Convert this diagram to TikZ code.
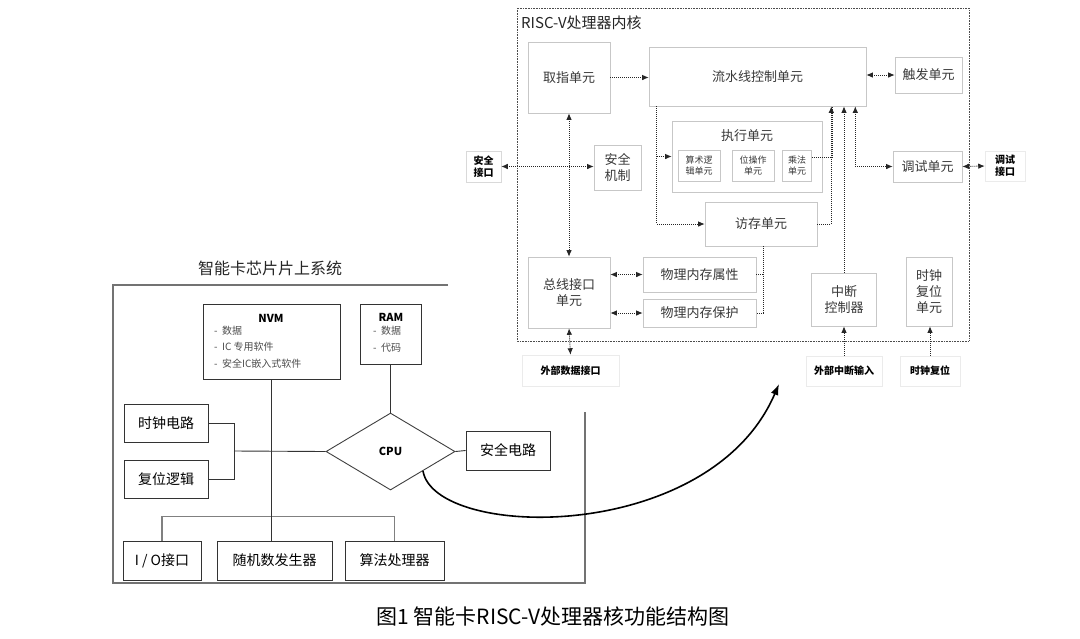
\documentclass[tikz,border=0pt]{standalone}
\usepackage{fontspec}
\setmainfont{Noto Sans CJK SC}
\usetikzlibrary{arrows.meta,shapes.geometric,shadows}
\newcommand{\fsz}[2]{\fontsize{#1pt}{#2pt}\selectfont}
\tikzset{
  wh/.style 2 args={minimum width=#1pt,minimum height=#2pt},
  cbox/.style={draw=black!22, fill=white, line width=0.6pt, text=black!78, inner sep=1pt, align=center,
    drop shadow={opacity=0.12,shadow xshift=0.8pt,shadow yshift=-0.8pt}},
  lbox/.style={draw=black!8, fill=white, line width=0.5pt, text=black, inner sep=1pt, align=center},
  sbox/.style={draw=black!80, line width=0.9pt, fill=white, align=center, inner sep=1pt},
  dl/.style={line width=0.9pt, black!85, dash pattern=on 1pt off 1pt},
  darr/.style={dl, -{Latex[length=6.5pt,width=5.5pt]}},
  ddarr/.style={dl, {Latex[length=6.5pt,width=5.5pt]}-{Latex[length=6.5pt,width=5.5pt]}},
  sline/.style={black!80, line width=0.9pt},
  busline/.style={black!50, line width=1.8pt},
  f13/.style={font=\fsz{13}{16}},
  f14/.style={font=\fsz{14}{16}},
  f9/.style={font=\fsz{9}{11}},
  fb10/.style={font=\fsz{10}{12}\bfseries},
}
\begin{document}
\begin{tikzpicture}[x=1pt,y=-1pt]
\useasboundingbox[fill=white] (0,0) rectangle (1080,638);

% ---------------- RISC-V core ----------------
\draw[black!70, line width=0.8pt, dash pattern=on 0.8pt off 0.8pt] (517,8) rectangle (969,341);
\node[anchor=west, text=black!85, inner sep=0, font=\fsz{15}{18}] (coret) at (521,23) {RISC-V处理器内核};

\node[cbox, f13, wh={82}{71}] (qz) at (569,77.5) {取指单元};
\node[cbox, f13, wh={217}{59}] (pl) at (757.5,76.5) {流水线控制单元};
\node[cbox, f13, wh={67}{36}] (cf) at (928.5,75) {触发单元};
\node[cbox, wh={150}{71}] (exe) at (747,156.5) {};
\node[text=black!78, inner sep=0, f13] (exet) at (747,136) {执行单元};
\node[cbox, f9, wh={42}{31}] (alu) at (699,165.5) {算术逻\\辑单元};
\node[cbox, f9, wh={42}{31}] (bit) at (753,165.5) {位操作\\单元};
\node[cbox, f9, wh={29}{31}] (mul) at (797,165.5) {乘法\\单元};
\node[cbox, f13, wh={47}{45}] (aqjz) at (617.5,167.5) {安全\\机制};
\node[lbox, fb10, wh={35}{31}, draw=black!15] (aqjk) at (483.5,166.5) {安全\\接口};
\node[cbox, f13, wh={112}{44}] (fc) at (761,224) {访存单元};
\node[cbox, f13, wh={69}{31}] (ts) at (927.5,166.5) {调试单元};
\node[lbox, fb10, wh={40}{30}] (tsjk) at (1005,166) {调试\\接口};
\node[cbox, f13, wh={82}{71}] (bus) at (569,292.5) {总线接口\\单元};
\node[cbox, f13, wh={113}{35}] (attr) at (699.5,274.5) {物理内存属性};
\node[cbox, f13, wh={113}{28}] (prot) at (699.5,313) {物理内存保护};
\node[cbox, f13, wh={65}{53}] (intc) at (844,299.5) {中断\\控制器};
\node[cbox, f13, wh={46}{69}] (clk) at (929,291.5) {时钟\\复位\\单元};
\node[lbox, fb10, wh={97}{31}] (exd) at (570.5,370.5) {外部数据接口};
\node[lbox, fb10, wh={76}{30}] (exi) at (844,371) {外部中断输入};
\node[lbox, fb10, wh={60}{30}] (ckr) at (930,371) {时钟复位};

% core connectors
\draw[darr] (qz.east) -- (qz.east -| pl.west);
\draw[ddarr] (cf.west -| pl.east) -- (cf.west);
\draw[ddarr] (qz.south) -- (bus.north);
\draw[ddarr] (aqjk.east) -- (aqjk.east -| aqjz.west);
\draw[darr] ([xshift=8pt]pl.south west) |- (exe.west);
\draw[darr] ([xshift=8pt]pl.south west) |- (fc.west);
\draw[dl] ([yshift=8.5pt]mul.east) -| ([xshift=-34pt]pl.south east);
\draw[darr] (fc.east) -| ([xshift=-35pt]pl.south east);
\draw[darr] (intc.north) -- (intc.north |- pl.south);
\draw[ddarr] ([xshift=-11pt]pl.south east) |- (ts.west);
\draw[ddarr] (ts.east) -- (tsjk.west);
\draw[dl] (attr.east) -| ([xshift=2pt]fc.south);
\draw[dl] ([xshift=2pt]fc.south) |- (prot.east);
\draw[ddarr] (bus.east |- attr.west) -- (attr.west);
\draw[ddarr] (bus.east |- prot.west) -- (prot.west);
\draw[ddarr] (bus.south) -- (exd.north);
\draw[darr] (exi.north) -- (exi.north |- intc.south);
\draw[darr] (ckr.north) -- (ckr.north |- clk.south);

% ---------------- smart card SoC ----------------
\node[text=black!85, inner sep=0, font=\fsz{16}{18}] (systitle) at (270,268) {智能卡芯片片上系统};
\draw[black!55, line width=1.5pt] (448,285) -- (113,285) -- (113,583) -- (585,583) -- (585,412);

\node[sbox, wh={137}{75}] (nvm) at (271.5,341.5) {};
\node[inner sep=0, font=\fsz{11}{13}\bfseries] (nvmt) at (271,318) {NVM};
\node[anchor=north west, align=left, inner sep=0, text=black!70, font=\fsz{10}{16}] (nvml) at (214,326) {-\ \ 数据\\-\ \ IC 专用软件\\[1pt]-\ \ 安全IC嵌入式软件};
\node[sbox, wh={61}{60}] (ram) at (390.5,334) {};
\node[inner sep=0, font=\fsz{11}{13}\bfseries] (ramt) at (391,317) {RAM};
\node[anchor=north west, align=left, inner sep=0, text=black!70, font=\fsz{10}{17}] (raml) at (373,326) {-\ \ 数据\\-\ \ 代码};

\node[sbox, f14, wh={84}{38}] (sclk) at (166,423) {时钟电路};
\node[sbox, f14, wh={84}{38}] (rst) at (166,479) {复位逻辑};
\node[diamond, draw=black!75, line width=0.9pt, fill=white, inner sep=0, wh={129}{77}, font=\fsz{11}{13}\bfseries] (cpu) at (390.5,451.5) {CPU};
\node[sbox, f14, wh={84}{39}] (sec) at (508,450.5) {安全电路};
\node[sbox, f14, wh={78}{39}] (io) at (162,560.5) {I\ /\ O接口};
\node[sbox, f14, wh={115}{39}] (rng) at (274.5,560.5) {随机数发生器};
\node[sbox, f14, wh={99}{39}] (alg) at (394.5,560.5) {算法处理器};

\coordinate (j1) at (234,451);
\draw[busline] (io.north) -- ++(0,-24) -| (alg.north);
\draw[sline] (nvm.south) -- (nvm.south |- rng.north);
\draw[sline] (sclk.east) -| (j1);
\draw[sline] (rst.east) -| (j1);
\draw[sline] (j1) -- (cpu.west);
\draw[sline] (ram.south) -- (cpu.north);
\draw[sline] (cpu.east) -- (sec.west);

% curved arrow CPU -> core
\coordinate (ce) at (779,384);
\draw[black, line width=1.6pt, -{Latex[length=11pt,width=8pt]}] (cpu.south east) .. controls (435,540) and (710,545) .. (ce);

% caption
\node[inner sep=0, font=\fsz{21}{24}] (cap) at (553,616) {图1\ 智能卡RISC-V处理器核功能结构图};
\end{tikzpicture}
\end{document}
